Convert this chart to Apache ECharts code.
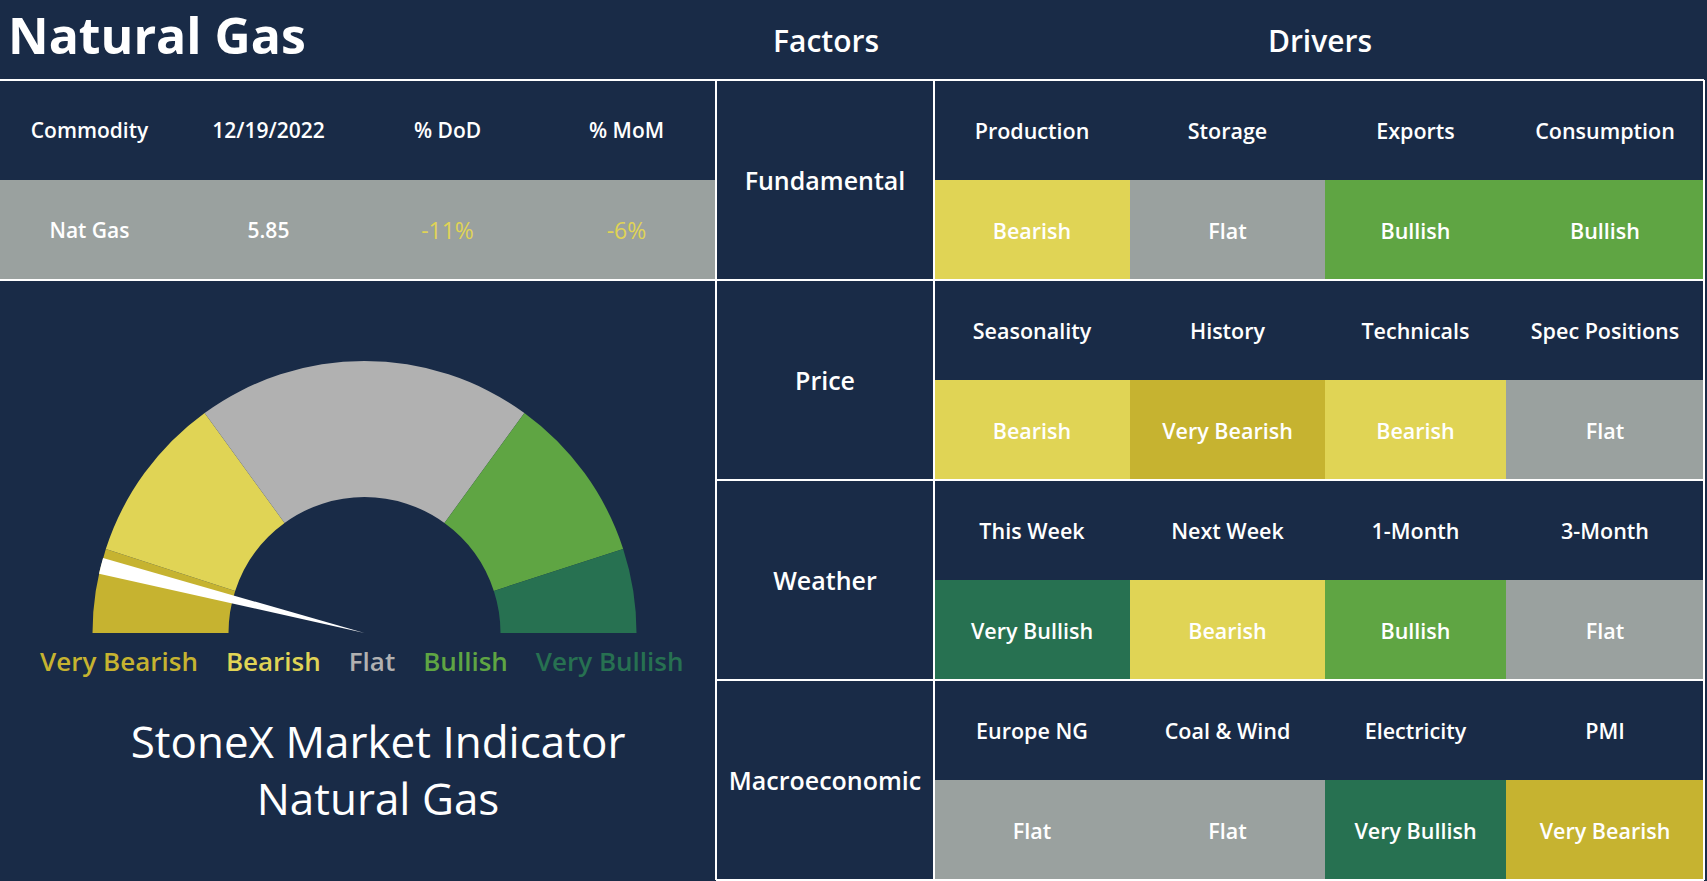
<!DOCTYPE html>
<html><head><meta charset="utf-8">
<script src="https://cdn.jsdelivr.net/npm/echarts@6/dist/echarts.min.js"></script>
<style>html,body{margin:0;padding:0;background:#192B47;overflow:hidden}#c{width:1707px;height:881px}</style>
</head><body><div id="c"></div>
<script>
// ---------- data ----------
const pageTitle = 'Natural Gas';
const headerFactors = 'Factors';
const headerDrivers = 'Drivers';
const tableHeaders = ['Commodity', '12/19/2022', '% DoD', '% MoM'];
const tableValues = ['Nat Gas', '5.85', '-11%', '-6%'];
const factors = ['Fundamental', 'Price', 'Weather', 'Macroeconomic'];
const driverNames = [
  ['Production', 'Storage', 'Exports', 'Consumption'],
  ['Seasonality', 'History', 'Technicals', 'Spec Positions'],
  ['This Week', 'Next Week', '1-Month', '3-Month'],
  ['Europe NG', 'Coal & Wind', 'Electricity', 'PMI']
];
const driverSignals = [
  ['Bearish', 'Flat', 'Bullish', 'Bullish'],
  ['Bearish', 'Very Bearish', 'Bearish', 'Flat'],
  ['Very Bullish', 'Bearish', 'Bullish', 'Flat'],
  ['Flat', 'Flat', 'Very Bullish', 'Very Bearish']
];
const gaugeLevels = ['Very Bearish', 'Bearish', 'Flat', 'Bullish', 'Very Bullish'];
const gaugeSpans = [18, 36, 72, 36, 18];      // degrees of the half dial
const needleValue = 14.3;                      // needle position on the 0..180 dial
const needleWidth = 3.4;                       // needle width in degrees
const indicatorTitle = ['StoneX Market Indicator', 'Natural Gas'];

// ---------- style ----------
const NAVY = '#192B47';
const FONT = "'Open Sans', 'Noto Sans', sans-serif";
const signalColor = {
  'Very Bearish': '#C6B330', 'Bearish': '#E0D455', 'Flat': '#9AA19F',
  'Bullish': '#5FA543', 'Very Bullish': '#277151'
};
const gaugeColor = ['#C6B330', '#E0D455', '#B1B1B1', '#5FA543', '#277151'];
const valueTextColor = ['#FFFFFF', '#FFFFFF', '#E0D455', '#E0D455'];
const valueTextWeight = [600, 600, 400, 400];
const valueTextSize = [21, 21, 23, 23];

function cellSeries(gridIndex, cells) {
  return {
    type: 'custom', xAxisIndex: gridIndex, yAxisIndex: gridIndex, silent: true, animation: false,
    data: cells.map(c => [c.col, c.row]),
    renderItem: function (params, api) {
      const c = cells[params.dataIndex];
      const p = api.coord([api.value(0), api.value(1)]);
      const s = api.size([1, 1]);
      const x0 = p[0] - s[0] / 2, y0 = p[1] - s[1] / 2, x1 = x0 + s[0], y1 = y0 + s[1];
      const ch = [
        { type: 'rect', z2: 0, shape: { x: x0, y: y0, width: s[0], height: s[1] }, style: { fill: c.fill } },
        { type: 'text', z2: 5, style: { text: c.text, x: p[0], y: p[1], align: 'center', verticalAlign: 'middle',
          fill: c.color, fontSize: c.size, fontWeight: c.weight, fontFamily: FONT } }
      ];
      const L = (a, b, d, e) => ({ type: 'line', z2: 10, shape: { x1: a, y1: b, x2: d, y2: e },
        style: { stroke: '#FFFFFF', lineWidth: 2 } });
      if (c.top) ch.push(L(x0, y0, x1, y0));
      if (c.bottom) ch.push(L(x0, y1, x1, y1));
      if (c.left) ch.push(L(x0, y0, x0, y1));
      if (c.right) ch.push(L(x1, y0, x1, y1));
      return { type: 'group', children: ch };
    }
  };
}

// grid layout
const grids = [], xAxes = [], yAxes = [], series = [];
function addGrid(g, xCats, yCats) {
  grids.push(Object.assign({ containLabel: false }, g));
  const i = grids.length - 1;
  xAxes.push({ type: 'category', gridIndex: i, data: xCats, show: false });
  yAxes.push({ type: 'category', gridIndex: i, data: yCats, inverse: true, show: false });
  return i;
}

// commodity table
const gi0 = addGrid({ left: 0, top: 80, width: 716, height: 200 }, tableHeaders, ['head', 'value']);
const tCells = [];
tableHeaders.forEach((h, i) => {
  tCells.push({ col: i, row: 0, text: h, fill: NAVY, color: '#FFFFFF', size: 21, weight: 600, top: true });
  tCells.push({ col: i, row: 1, text: tableValues[i], fill: '#9AA19F', color: valueTextColor[i], size: valueTextSize[i],
    weight: valueTextWeight[i], bottom: true });
});
series.push(cellSeries(gi0, tCells));

// factors column
const gi1 = addGrid({ left: 716, top: 80, width: 218, height: 800 }, ['f'], factors);
series.push(cellSeries(gi1, factors.map((f, i) => ({
  col: 0, row: i, text: f, fill: NAVY, color: '#FFFFFF', size: 25, weight: 600,
  top: true, bottom: true, left: true, right: true
}))));

// drivers columns
const colLeft = [934, 1130, 1325, 1506];
const colWidth = [196, 195, 181, 198];
const rowNames = [];
factors.forEach(f => { rowNames.push(f + ' drivers'); rowNames.push(f + ' signals'); });
for (let c = 0; c < 4; c++) {
  const gi = addGrid({ left: colLeft[c], top: 80, width: colWidth[c], height: 800 }, ['d' + c], rowNames);
  const cells = [];
  factors.forEach((f, b) => {
    cells.push({ col: 0, row: 2 * b, text: driverNames[b][c], fill: NAVY, color: '#FFFFFF', size: 21.5,
      weight: 600, top: true, right: c === 3 });
    cells.push({ col: 0, row: 2 * b + 1, text: driverSignals[b][c], fill: signalColor[driverSignals[b][c]],
      color: '#FFFFFF', size: 21.5, weight: 600, bottom: true, right: c === 3 });
  });
  series.push(cellSeries(gi, cells));
}

// gauge
const GC = [364.5, 633];
series.push({
  type: 'pie', center: GC, radius: [136, 272], startAngle: 180, clockwise: true, silent: true,
  animation: false, label: { show: false }, labelLine: { show: false }, emphasis: { disabled: true },
  itemStyle: { borderWidth: 0 },
  data: gaugeLevels.map((n, i) => ({ name: n, value: gaugeSpans[i], itemStyle: { color: gaugeColor[i] } }))
    .concat([{ name: 'rest', value: 180, itemStyle: { color: 'rgba(0,0,0,0)' } }])
});
series.push({
  type: 'pie', center: GC, radius: [0, 272], startAngle: 180, clockwise: true, silent: true,
  animation: false, label: { show: false }, labelLine: { show: false }, emphasis: { disabled: true },
  itemStyle: { borderWidth: 0 },
  data: [
    { name: 'n0', value: needleValue - needleWidth / 2, itemStyle: { color: 'rgba(0,0,0,0)' } },
    { name: 'needle', value: needleWidth, itemStyle: { color: '#FFFFFF' } },
    { name: 'n1', value: 360 - needleValue - needleWidth / 2, itemStyle: { color: 'rgba(0,0,0,0)' } }
  ]
});

const chart = echarts.init(document.getElementById('c'), null, { renderer: 'svg', width: 1707, height: 881 });
chart.setOption({
  backgroundColor: NAVY,
  animation: false,
  grid: grids, xAxis: xAxes, yAxis: yAxes, series: series,
  legend: {
    data: gaugeLevels.map((n, i) => ({ name: n, textStyle: { color: gaugeColor[i] } })),
    icon: 'none', itemWidth: 0, itemHeight: 30, itemGap: 23, left: 30, top: 641,
    selectedMode: false,
    textStyle: { fontSize: 26, fontWeight: 600, fontFamily: FONT }
  },
  graphic: [
    { type: 'text', left: 8, top: 10, style: { text: pageTitle, fill: '#FFFFFF', fontSize: 50, fontWeight: 'bold', fontFamily: FONT } },
    { type: 'text', x: 826, y: 40, style: { text: headerFactors, fill: '#FFFFFF', fontSize: 30, fontWeight: 600, fontFamily: FONT, align: 'center', verticalAlign: 'middle' } },
    { type: 'text', x: 1320, y: 40, style: { text: headerDrivers, fill: '#FFFFFF', fontSize: 30, fontWeight: 600, fontFamily: FONT, align: 'center', verticalAlign: 'middle' } },
    { type: 'text', x: 378, y: 741, style: { text: indicatorTitle[0], fill: '#FFFFFF', fontSize: 44, fontFamily: FONT, align: 'center', verticalAlign: 'middle' } },
    { type: 'text', x: 378, y: 798, style: { text: indicatorTitle[1], fill: '#FFFFFF', fontSize: 44, fontFamily: FONT, align: 'center', verticalAlign: 'middle' } }
  ]
});
</script></body></html>
